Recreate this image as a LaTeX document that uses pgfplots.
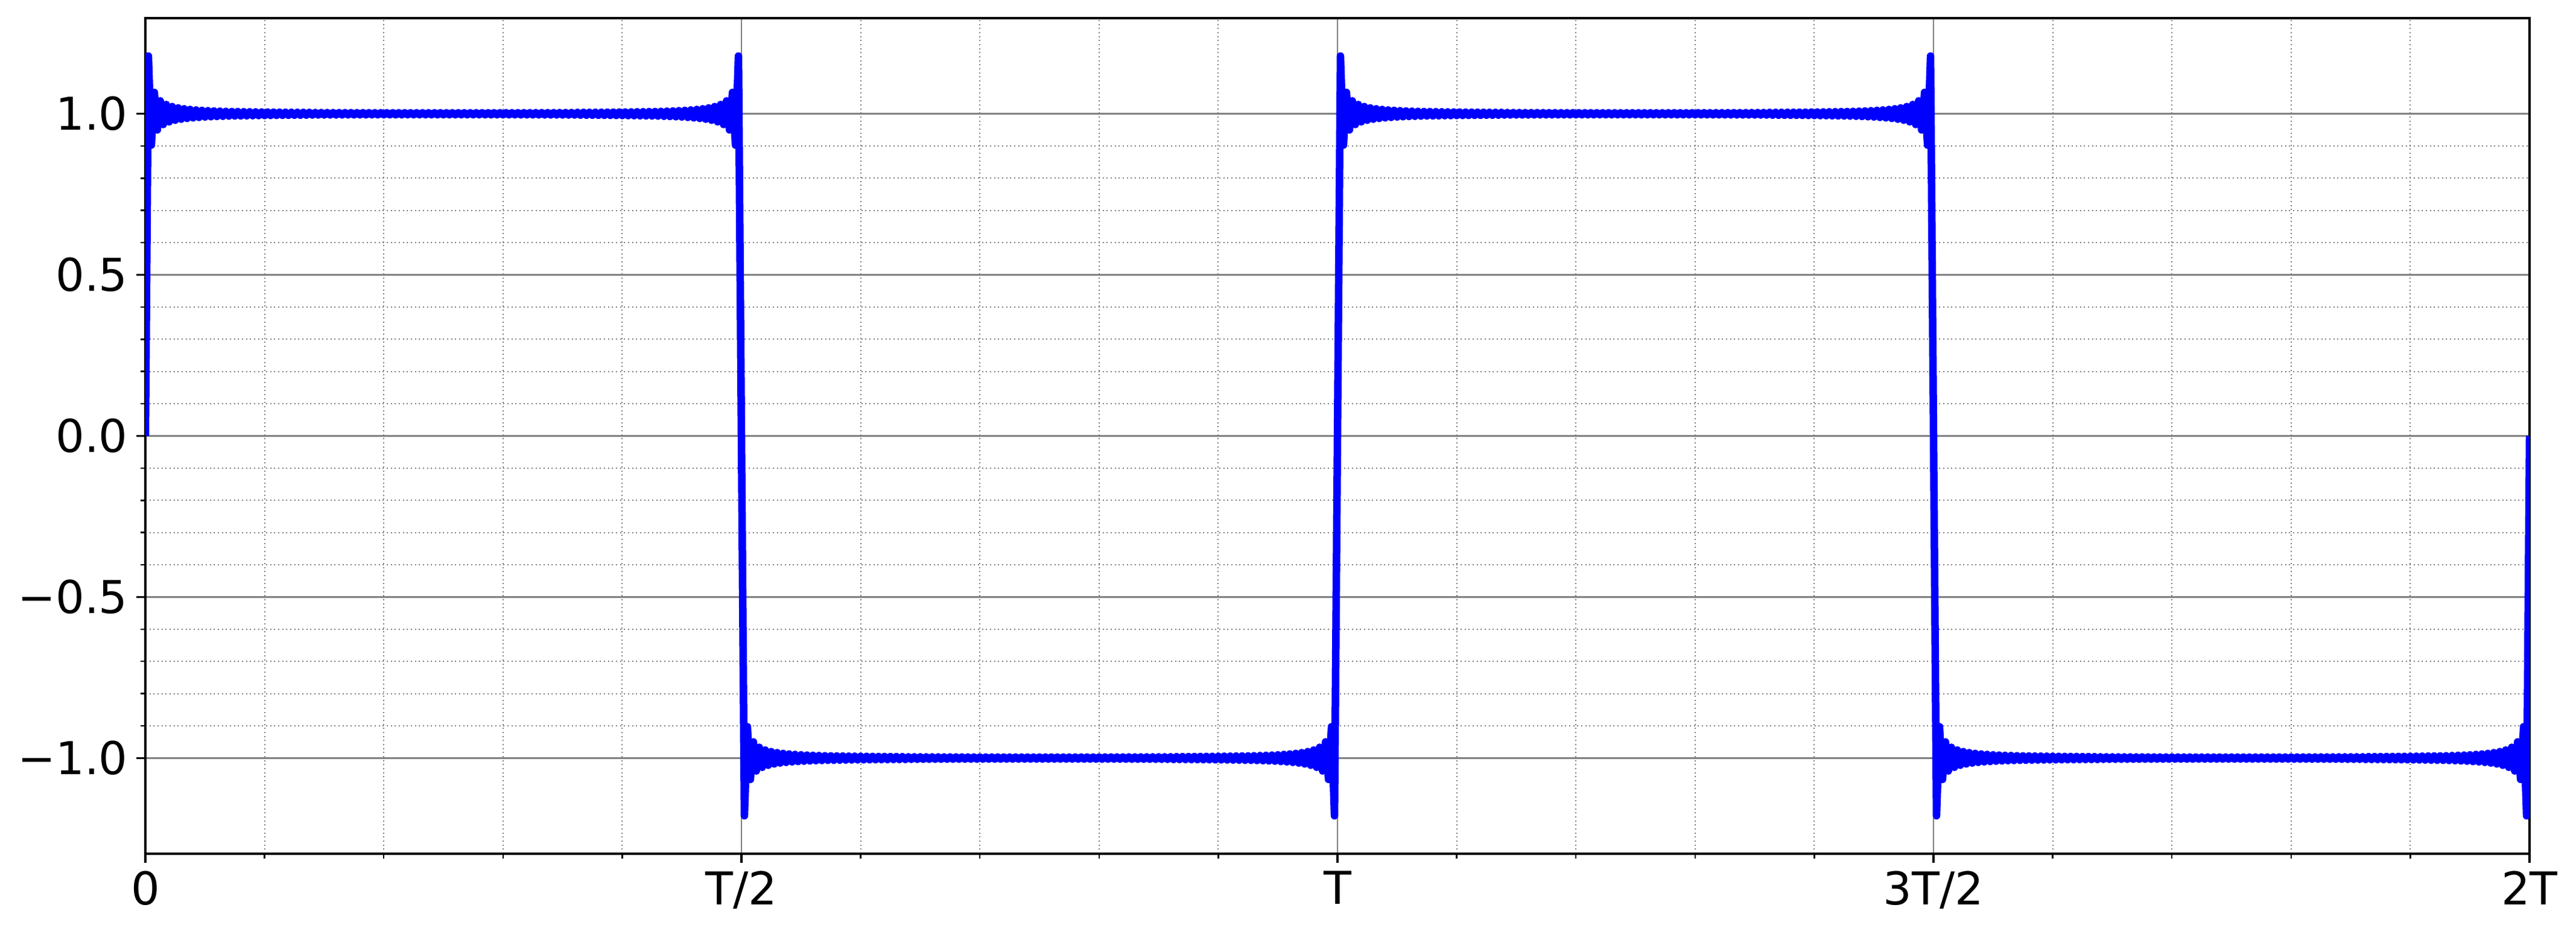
\documentclass[border=0pt]{standalone}
\usepackage{fontspec}
\setmainfont{DejaVu Sans}
\usepackage{pgfplots}
\pgfplotsset{compat=1.18}

% partial Fourier sum of a square wave (period T = 1), ripple peaks
\pgfplotstableread{
x y
0 0
0.0025 1.1790
0.005 0.9028
0.0075 1.0662
0.01 0.9499
0.0125 1.0402
0.015 0.9664
0.0175 1.0288
0.02 0.9748
0.0225 1.0225
0.025 0.9798
0.0275 1.0184
0.03 0.9831
0.0325 1.0156
0.035 0.9855
0.0375 1.0135
0.04 0.9873
0.0425 1.0119
0.045 0.9887
0.0475 1.0107
0.05 0.9899
0.0525 1.0096
0.055 0.9908
0.0575 1.0088
0.06 0.9916
0.0625 1.0081
0.065 0.9922
0.0675 1.0075
0.07 0.9928
0.0725 1.0070
0.075 0.9932
0.0775 1.0068
0.08 0.9934
0.0825 1.0064
0.085 0.9937
0.0875 1.0061
0.09 0.9941
0.0925 1.0058
0.095 0.9943
0.0975 1.0055
0.1 0.9946
0.1025 1.0053
0.105 0.9948
0.1075 1.0051
0.11 0.9950
0.1125 1.0049
0.115 0.9952
0.1175 1.0047
0.12 0.9953
0.1225 1.0046
0.125 0.9955
0.1275 1.0044
0.13 0.9956
0.1325 1.0043
0.135 0.9958
0.1375 1.0042
0.14 0.9959
0.1425 1.0041
0.145 0.9960
0.1475 1.0040
0.15 0.9961
0.1525 1.0039
0.155 0.9962
0.1575 1.0038
0.16 0.9962
0.1625 1.0037
0.165 0.9963
0.1675 1.0037
0.17 0.9964
0.1725 1.0036
0.175 0.9964
0.1775 1.0035
0.18 0.9965
0.1825 1.0035
0.185 0.9965
0.1875 1.0034
0.19 0.9966
0.1925 1.0034
0.195 0.9966
0.1975 1.0034
0.2 0.9967
0.2025 1.0033
0.205 0.9967
0.2075 1.0033
0.21 0.9967
0.2125 1.0033
0.215 0.9967
0.2175 1.0033
0.22 0.9968
0.2225 1.0032
0.225 0.9968
0.2275 1.0032
0.23 0.9968
0.2325 1.0032
0.235 0.9968
0.2375 1.0032
0.24 0.9968
0.2425 1.0032
0.245 0.9968
0.2475 1.0032
0.25 0.9968
0.2525 1.0032
0.255 0.9968
0.2575 1.0032
0.26 0.9968
0.2625 1.0032
0.265 0.9968
0.2675 1.0032
0.27 0.9968
0.2725 1.0032
0.275 0.9968
0.2775 1.0032
0.28 0.9968
0.2825 1.0033
0.285 0.9967
0.2875 1.0033
0.29 0.9967
0.2925 1.0033
0.295 0.9967
0.2975 1.0033
0.3 0.9967
0.3025 1.0034
0.305 0.9966
0.3075 1.0034
0.31 0.9966
0.3125 1.0034
0.315 0.9965
0.3175 1.0035
0.32 0.9965
0.3225 1.0035
0.325 0.9964
0.3275 1.0036
0.33 0.9964
0.3325 1.0037
0.335 0.9963
0.3375 1.0037
0.34 0.9962
0.3425 1.0038
0.345 0.9962
0.3475 1.0039
0.35 0.9961
0.3525 1.0040
0.355 0.9960
0.3575 1.0041
0.36 0.9959
0.3625 1.0042
0.365 0.9958
0.3675 1.0043
0.37 0.9956
0.3725 1.0044
0.375 0.9955
0.3775 1.0046
0.38 0.9953
0.3825 1.0047
0.385 0.9952
0.3875 1.0049
0.39 0.9950
0.3925 1.0051
0.395 0.9948
0.3975 1.0053
0.4 0.9946
0.4025 1.0055
0.405 0.9943
0.4075 1.0058
0.41 0.9941
0.4125 1.0061
0.415 0.9937
0.4175 1.0064
0.42 0.9934
0.4225 1.0068
0.425 0.9932
0.4275 1.0070
0.43 0.9928
0.4325 1.0075
0.435 0.9922
0.4375 1.0081
0.44 0.9916
0.4425 1.0088
0.445 0.9908
0.4475 1.0096
0.45 0.9899
0.4525 1.0107
0.455 0.9887
0.4575 1.0119
0.46 0.9873
0.4625 1.0135
0.465 0.9855
0.4675 1.0156
0.47 0.9831
0.4725 1.0184
0.475 0.9798
0.4775 1.0225
0.48 0.9748
0.4825 1.0288
0.485 0.9664
0.4875 1.0402
0.49 0.9499
0.4925 1.0662
0.495 0.9028
0.4975 1.1790
0.5 0
0.5025 -1.1790
0.505 -0.9028
0.5075 -1.0662
0.51 -0.9499
0.5125 -1.0402
0.515 -0.9664
0.5175 -1.0288
0.52 -0.9748
0.5225 -1.0225
0.525 -0.9798
0.5275 -1.0184
0.53 -0.9831
0.5325 -1.0156
0.535 -0.9855
0.5375 -1.0135
0.54 -0.9873
0.5425 -1.0119
0.545 -0.9887
0.5475 -1.0107
0.55 -0.9899
0.5525 -1.0096
0.555 -0.9908
0.5575 -1.0088
0.56 -0.9916
0.5625 -1.0081
0.565 -0.9922
0.5675 -1.0075
0.57 -0.9928
0.5725 -1.0070
0.575 -0.9932
0.5775 -1.0068
0.58 -0.9934
0.5825 -1.0064
0.585 -0.9937
0.5875 -1.0061
0.59 -0.9941
0.5925 -1.0058
0.595 -0.9943
0.5975 -1.0055
0.6 -0.9946
0.6025 -1.0053
0.605 -0.9948
0.6075 -1.0051
0.61 -0.9950
0.6125 -1.0049
0.615 -0.9952
0.6175 -1.0047
0.62 -0.9953
0.6225 -1.0046
0.625 -0.9955
0.6275 -1.0044
0.63 -0.9956
0.6325 -1.0043
0.635 -0.9958
0.6375 -1.0042
0.64 -0.9959
0.6425 -1.0041
0.645 -0.9960
0.6475 -1.0040
0.65 -0.9961
0.6525 -1.0039
0.655 -0.9962
0.6575 -1.0038
0.66 -0.9962
0.6625 -1.0037
0.665 -0.9963
0.6675 -1.0037
0.67 -0.9964
0.6725 -1.0036
0.675 -0.9964
0.6775 -1.0035
0.68 -0.9965
0.6825 -1.0035
0.685 -0.9965
0.6875 -1.0034
0.69 -0.9966
0.6925 -1.0034
0.695 -0.9966
0.6975 -1.0034
0.7 -0.9967
0.7025 -1.0033
0.705 -0.9967
0.7075 -1.0033
0.71 -0.9967
0.7125 -1.0033
0.715 -0.9967
0.7175 -1.0033
0.72 -0.9968
0.7225 -1.0032
0.725 -0.9968
0.7275 -1.0032
0.73 -0.9968
0.7325 -1.0032
0.735 -0.9968
0.7375 -1.0032
0.74 -0.9968
0.7425 -1.0032
0.745 -0.9968
0.7475 -1.0032
0.75 -0.9968
0.7525 -1.0032
0.755 -0.9968
0.7575 -1.0032
0.76 -0.9968
0.7625 -1.0032
0.765 -0.9968
0.7675 -1.0032
0.77 -0.9968
0.7725 -1.0032
0.775 -0.9968
0.7775 -1.0032
0.78 -0.9968
0.7825 -1.0033
0.785 -0.9967
0.7875 -1.0033
0.79 -0.9967
0.7925 -1.0033
0.795 -0.9967
0.7975 -1.0033
0.8 -0.9967
0.8025 -1.0034
0.805 -0.9966
0.8075 -1.0034
0.81 -0.9966
0.8125 -1.0034
0.815 -0.9965
0.8175 -1.0035
0.82 -0.9965
0.8225 -1.0035
0.825 -0.9964
0.8275 -1.0036
0.83 -0.9964
0.8325 -1.0037
0.835 -0.9963
0.8375 -1.0037
0.84 -0.9962
0.8425 -1.0038
0.845 -0.9962
0.8475 -1.0039
0.85 -0.9961
0.8525 -1.0040
0.855 -0.9960
0.8575 -1.0041
0.86 -0.9959
0.8625 -1.0042
0.865 -0.9958
0.8675 -1.0043
0.87 -0.9956
0.8725 -1.0044
0.875 -0.9955
0.8775 -1.0046
0.88 -0.9953
0.8825 -1.0047
0.885 -0.9952
0.8875 -1.0049
0.89 -0.9950
0.8925 -1.0051
0.895 -0.9948
0.8975 -1.0053
0.9 -0.9946
0.9025 -1.0055
0.905 -0.9943
0.9075 -1.0058
0.91 -0.9941
0.9125 -1.0061
0.915 -0.9937
0.9175 -1.0064
0.92 -0.9934
0.9225 -1.0068
0.925 -0.9932
0.9275 -1.0070
0.93 -0.9928
0.9325 -1.0075
0.935 -0.9922
0.9375 -1.0081
0.94 -0.9916
0.9425 -1.0088
0.945 -0.9908
0.9475 -1.0096
0.95 -0.9899
0.9525 -1.0107
0.955 -0.9887
0.9575 -1.0119
0.96 -0.9873
0.9625 -1.0135
0.965 -0.9855
0.9675 -1.0156
0.97 -0.9831
0.9725 -1.0184
0.975 -0.9798
0.9775 -1.0225
0.98 -0.9748
0.9825 -1.0288
0.985 -0.9664
0.9875 -1.0402
0.99 -0.9499
0.9925 -1.0662
0.995 -0.9028
0.9975 -1.1790
1 0
1.0025 1.1790
1.005 0.9028
1.0075 1.0662
1.01 0.9499
1.0125 1.0402
1.015 0.9664
1.0175 1.0288
1.02 0.9748
1.0225 1.0225
1.025 0.9798
1.0275 1.0184
1.03 0.9831
1.0325 1.0156
1.035 0.9855
1.0375 1.0135
1.04 0.9873
1.0425 1.0119
1.045 0.9887
1.0475 1.0107
1.05 0.9899
1.0525 1.0096
1.055 0.9908
1.0575 1.0088
1.06 0.9916
1.0625 1.0081
1.065 0.9922
1.0675 1.0075
1.07 0.9928
1.0725 1.0070
1.075 0.9932
1.0775 1.0068
1.08 0.9934
1.0825 1.0064
1.085 0.9937
1.0875 1.0061
1.09 0.9941
1.0925 1.0058
1.095 0.9943
1.0975 1.0055
1.1 0.9946
1.1025 1.0053
1.105 0.9948
1.1075 1.0051
1.11 0.9950
1.1125 1.0049
1.115 0.9952
1.1175 1.0047
1.12 0.9953
1.1225 1.0046
1.125 0.9955
1.1275 1.0044
1.13 0.9956
1.1325 1.0043
1.135 0.9958
1.1375 1.0042
1.14 0.9959
1.1425 1.0041
1.145 0.9960
1.1475 1.0040
1.15 0.9961
1.1525 1.0039
1.155 0.9962
1.1575 1.0038
1.16 0.9962
1.1625 1.0037
1.165 0.9963
1.1675 1.0037
1.17 0.9964
1.1725 1.0036
1.175 0.9964
1.1775 1.0035
1.18 0.9965
1.1825 1.0035
1.185 0.9965
1.1875 1.0034
1.19 0.9966
1.1925 1.0034
1.195 0.9966
1.1975 1.0034
1.2 0.9967
1.2025 1.0033
1.205 0.9967
1.2075 1.0033
1.21 0.9967
1.2125 1.0033
1.215 0.9967
1.2175 1.0033
1.22 0.9968
1.2225 1.0032
1.225 0.9968
1.2275 1.0032
1.23 0.9968
1.2325 1.0032
1.235 0.9968
1.2375 1.0032
1.24 0.9968
1.2425 1.0032
1.245 0.9968
1.2475 1.0032
1.25 0.9968
1.2525 1.0032
1.255 0.9968
1.2575 1.0032
1.26 0.9968
1.2625 1.0032
1.265 0.9968
1.2675 1.0032
1.27 0.9968
1.2725 1.0032
1.275 0.9968
1.2775 1.0032
1.28 0.9968
1.2825 1.0033
1.285 0.9967
1.2875 1.0033
1.29 0.9967
1.2925 1.0033
1.295 0.9967
1.2975 1.0033
1.3 0.9967
1.3025 1.0034
1.305 0.9966
1.3075 1.0034
1.31 0.9966
1.3125 1.0034
1.315 0.9965
1.3175 1.0035
1.32 0.9965
1.3225 1.0035
1.325 0.9964
1.3275 1.0036
1.33 0.9964
1.3325 1.0037
1.335 0.9963
1.3375 1.0037
1.34 0.9962
1.3425 1.0038
1.345 0.9962
1.3475 1.0039
1.35 0.9961
1.3525 1.0040
1.355 0.9960
1.3575 1.0041
1.36 0.9959
1.3625 1.0042
1.365 0.9958
1.3675 1.0043
1.37 0.9956
1.3725 1.0044
1.375 0.9955
1.3775 1.0046
1.38 0.9953
1.3825 1.0047
1.385 0.9952
1.3875 1.0049
1.39 0.9950
1.3925 1.0051
1.395 0.9948
1.3975 1.0053
1.4 0.9946
1.4025 1.0055
1.405 0.9943
1.4075 1.0058
1.41 0.9941
1.4125 1.0061
1.415 0.9937
1.4175 1.0064
1.42 0.9934
1.4225 1.0068
1.425 0.9932
1.4275 1.0070
1.43 0.9928
1.4325 1.0075
1.435 0.9922
1.4375 1.0081
1.44 0.9916
1.4425 1.0088
1.445 0.9908
1.4475 1.0096
1.45 0.9899
1.4525 1.0107
1.455 0.9887
1.4575 1.0119
1.46 0.9873
1.4625 1.0135
1.465 0.9855
1.4675 1.0156
1.47 0.9831
1.4725 1.0184
1.475 0.9798
1.4775 1.0225
1.48 0.9748
1.4825 1.0288
1.485 0.9664
1.4875 1.0402
1.49 0.9499
1.4925 1.0662
1.495 0.9028
1.4975 1.1790
1.5 0
1.5025 -1.1790
1.505 -0.9028
1.5075 -1.0662
1.51 -0.9499
1.5125 -1.0402
1.515 -0.9664
1.5175 -1.0288
1.52 -0.9748
1.5225 -1.0225
1.525 -0.9798
1.5275 -1.0184
1.53 -0.9831
1.5325 -1.0156
1.535 -0.9855
1.5375 -1.0135
1.54 -0.9873
1.5425 -1.0119
1.545 -0.9887
1.5475 -1.0107
1.55 -0.9899
1.5525 -1.0096
1.555 -0.9908
1.5575 -1.0088
1.56 -0.9916
1.5625 -1.0081
1.565 -0.9922
1.5675 -1.0075
1.57 -0.9928
1.5725 -1.0070
1.575 -0.9932
1.5775 -1.0068
1.58 -0.9934
1.5825 -1.0064
1.585 -0.9937
1.5875 -1.0061
1.59 -0.9941
1.5925 -1.0058
1.595 -0.9943
1.5975 -1.0055
1.6 -0.9946
1.6025 -1.0053
1.605 -0.9948
1.6075 -1.0051
1.61 -0.9950
1.6125 -1.0049
1.615 -0.9952
1.6175 -1.0047
1.62 -0.9953
1.6225 -1.0046
1.625 -0.9955
1.6275 -1.0044
1.63 -0.9956
1.6325 -1.0043
1.635 -0.9958
1.6375 -1.0042
1.64 -0.9959
1.6425 -1.0041
1.645 -0.9960
1.6475 -1.0040
1.65 -0.9961
1.6525 -1.0039
1.655 -0.9962
1.6575 -1.0038
1.66 -0.9962
1.6625 -1.0037
1.665 -0.9963
1.6675 -1.0037
1.67 -0.9964
1.6725 -1.0036
1.675 -0.9964
1.6775 -1.0035
1.68 -0.9965
1.6825 -1.0035
1.685 -0.9965
1.6875 -1.0034
1.69 -0.9966
1.6925 -1.0034
1.695 -0.9966
1.6975 -1.0034
1.7 -0.9967
1.7025 -1.0033
1.705 -0.9967
1.7075 -1.0033
1.71 -0.9967
1.7125 -1.0033
1.715 -0.9967
1.7175 -1.0033
1.72 -0.9968
1.7225 -1.0032
1.725 -0.9968
1.7275 -1.0032
1.73 -0.9968
1.7325 -1.0032
1.735 -0.9968
1.7375 -1.0032
1.74 -0.9968
1.7425 -1.0032
1.745 -0.9968
1.7475 -1.0032
1.75 -0.9968
1.7525 -1.0032
1.755 -0.9968
1.7575 -1.0032
1.76 -0.9968
1.7625 -1.0032
1.765 -0.9968
1.7675 -1.0032
1.77 -0.9968
1.7725 -1.0032
1.775 -0.9968
1.7775 -1.0032
1.78 -0.9968
1.7825 -1.0033
1.785 -0.9967
1.7875 -1.0033
1.79 -0.9967
1.7925 -1.0033
1.795 -0.9967
1.7975 -1.0033
1.8 -0.9967
1.8025 -1.0034
1.805 -0.9966
1.8075 -1.0034
1.81 -0.9966
1.8125 -1.0034
1.815 -0.9965
1.8175 -1.0035
1.82 -0.9965
1.8225 -1.0035
1.825 -0.9964
1.8275 -1.0036
1.83 -0.9964
1.8325 -1.0037
1.835 -0.9963
1.8375 -1.0037
1.84 -0.9962
1.8425 -1.0038
1.845 -0.9962
1.8475 -1.0039
1.85 -0.9961
1.8525 -1.0040
1.855 -0.9960
1.8575 -1.0041
1.86 -0.9959
1.8625 -1.0042
1.865 -0.9958
1.8675 -1.0043
1.87 -0.9956
1.8725 -1.0044
1.875 -0.9955
1.8775 -1.0046
1.88 -0.9953
1.8825 -1.0047
1.885 -0.9952
1.8875 -1.0049
1.89 -0.9950
1.8925 -1.0051
1.895 -0.9948
1.8975 -1.0053
1.9 -0.9946
1.9025 -1.0055
1.905 -0.9943
1.9075 -1.0058
1.91 -0.9941
1.9125 -1.0061
1.915 -0.9937
1.9175 -1.0064
1.92 -0.9934
1.9225 -1.0068
1.925 -0.9932
1.9275 -1.0070
1.93 -0.9928
1.9325 -1.0075
1.935 -0.9922
1.9375 -1.0081
1.94 -0.9916
1.9425 -1.0088
1.945 -0.9908
1.9475 -1.0096
1.95 -0.9899
1.9525 -1.0107
1.955 -0.9887
1.9575 -1.0119
1.96 -0.9873
1.9625 -1.0135
1.965 -0.9855
1.9675 -1.0156
1.97 -0.9831
1.9725 -1.0184
1.975 -0.9798
1.9775 -1.0225
1.98 -0.9748
1.9825 -1.0288
1.985 -0.9664
1.9875 -1.0402
1.99 -0.9499
1.9925 -1.0662
1.995 -0.9028
1.9975 -1.1790
2 0
}\wave

\begin{document}
\begin{tikzpicture}
\useasboundingbox (-57.84pt,-31.92pt) rectangle (966.96pt,339.6pt);
\begin{axis}[
  at={(0,0)}, anchor=south west,
  scale only axis,
  width=948.48pt, height=332.4pt,
  xmin=0, xmax=2, ymin=-1.297, ymax=1.297,
  xtick={0,0.5,1,1.5,2},
  xticklabels={0,T/2,T,3T/2,2T},
  ytick={-1,-0.5,0,0.5,1},
  yticklabels={−1.0,−0.5,0.0,0.5,1.0},
  minor x tick num=4, minor y tick num=4,
  tick pos=left,
  tick align=outside,
  major tick length=3.5pt, minor tick length=2pt,
  every tick/.style={black, line width=0.8pt},
  every minor tick/.style={black, line width=0.6pt},
  grid=both,
  major grid style={gray, line width=0.65pt, solid},
  minor grid style={gray, line width=0.5pt, dash pattern=on 0.5pt off 1.1pt},
  axis line style={line width=0.8pt},
  ticklabel style={font=\fontsize{18}{21.6}\selectfont},
]
\addplot[blue, line width=3pt, line join=round, no markers] table[x=x, y=y] {\wave};
\end{axis}
\end{tikzpicture}
\end{document}
